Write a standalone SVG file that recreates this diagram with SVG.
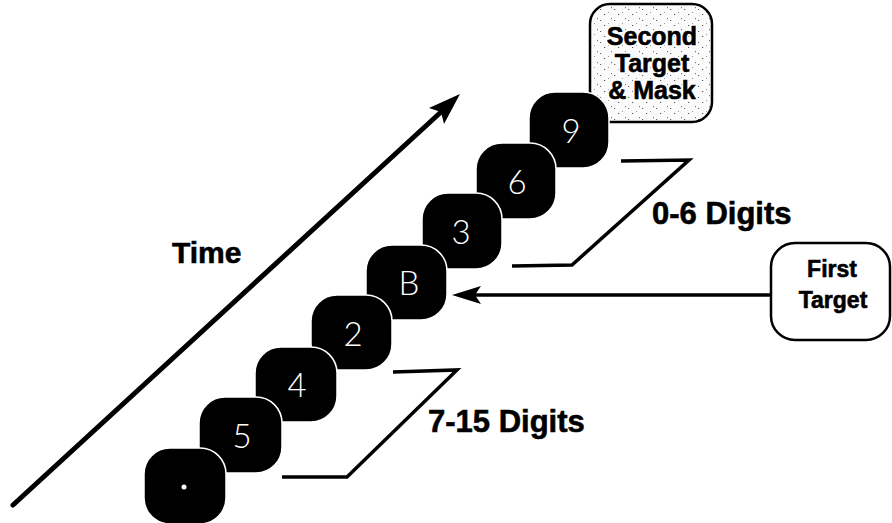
<svg xmlns="http://www.w3.org/2000/svg" width="892" height="523" viewBox="0 0 892 523">
  <style>
    .card { fill: #000; stroke: #fff; stroke-width: 1.5; }
    .digit { fill: #fff; font-family: Lato, "Liberation Sans", Arial, sans-serif; font-weight: 300; font-size: 33px; text-anchor: middle; }
    .label { fill: #000; font-family: "Liberation Sans", Arial, sans-serif; font-weight: bold; stroke: #000; stroke-width: 0.6; }
    .box { stroke: #000; stroke-width: 2.5; }
    .bracket { fill: none; stroke: #000; stroke-width: 3.5; stroke-linejoin: miter; }
    .halo { fill: none; stroke: #fff; stroke-width: 4; stroke-linejoin: round; }
  </style>
  <defs>
    <pattern id="speckle" width="14" height="11" patternUnits="userSpaceOnUse">
      <rect width="14" height="11" fill="#fbfbfb"/>
      <rect x="2" y="3" width="1.2" height="1" fill="#555"/>
      <rect x="9" y="7" width="1" height="1.2" fill="#777"/>
      <rect x="6" y="1" width="1" height="1" fill="#999"/>
      <rect x="12" y="9" width="1.2" height="1" fill="#666"/>
    </pattern>
  </defs>

  <rect width="892" height="523" fill="#fff"/>

  <!-- time axis -->
  <g id="time-axis">
    <line x1="13" y1="505" x2="441" y2="112" stroke="#000" stroke-width="5" stroke-linecap="round"/>
    <polygon points="460,94 429,108 441,112 444,124" fill="#000"/>
    <text class="label" x="172" y="263" font-size="30" stroke-width="0.4">Time</text>
  </g>

  <!-- second target box (behind the stream) -->
  <g id="second-target">
    <rect class="box" x="590" y="4" width="122" height="118" rx="20" fill="url(#speckle)"/>
    <g font-family="'Liberation Sans', Arial, sans-serif" font-weight="bold" font-size="25" text-anchor="middle">
      <text class="halo" x="652" y="45">Second</text>
      <text class="halo" x="652" y="72">Target</text>
      <text class="halo" x="652" y="99">&amp; Mask</text>
      <text class="label" x="652" y="45">Second</text>
      <text class="label" x="652" y="72">Target</text>
      <text class="label" x="652" y="99">&amp; Mask</text>
    </g>
  </g>

  <!-- stimulus stream, later items drawn behind earlier ones -->
  <g id="item-9">
    <rect class="card" x="529" y="92" width="80" height="76" rx="26"/>
    <text class="digit" x="571" y="143">9</text>
  </g>
  <g id="item-6">
    <rect class="card" x="476" y="143" width="80" height="76" rx="26"/>
    <text class="digit" x="517" y="194">6</text>
  </g>
  <g id="item-3">
    <rect class="card" x="422" y="193" width="80" height="76" rx="26"/>
    <text class="digit" x="461" y="244">3</text>
  </g>
  <g id="item-B">
    <rect class="card" x="366" y="245" width="81" height="75" rx="26"/>
    <text class="digit" x="409" y="295">B</text>
  </g>
  <g id="item-2">
    <rect class="card" x="311" y="295" width="81" height="75" rx="26"/>
    <text class="digit" x="353" y="346">2</text>
  </g>
  <g id="item-4">
    <rect class="card" x="255" y="347" width="82" height="75" rx="26"/>
    <text class="digit" x="297" y="397">4</text>
  </g>
  <g id="item-5">
    <rect class="card" x="199" y="397" width="83" height="76" rx="26"/>
    <text class="digit" x="242" y="448">5</text>
  </g>
  <g id="item-fixation">
    <rect class="card" x="144" y="448" width="82" height="76" rx="26"/>
    <circle cx="184" cy="487" r="2.5" fill="#fff"/>
  </g>

  <!-- first target label -->
  <g id="first-target">
    <rect class="box" x="771" y="243" width="119" height="97" rx="24" fill="#fff"/>
    <text class="label" x="832" y="277" font-size="23" text-anchor="middle" stroke-width="0.4">First</text>
    <text class="label" x="833" y="308" font-size="23" text-anchor="middle" stroke-width="0.4">Target</text>
  </g>

  <!-- connectors and brackets -->
  <g id="connectors">
    <line x1="771" y1="295" x2="474" y2="295" stroke="#000" stroke-width="3.5"/>
    <polygon points="452,295 481,286 475,295 481,304" fill="#000"/>
    <polyline class="bracket" points="512,266 572,265 689,160 621,161"/>
    <polyline class="bracket" points="282,477 347,477 457,370 393,372"/>
  </g>

  <!-- bracket labels -->
  <text class="label" x="652" y="224" font-size="31">0-6 Digits</text>
  <text class="label" x="428" y="432" font-size="31">7-15 Digits</text>
</svg>
